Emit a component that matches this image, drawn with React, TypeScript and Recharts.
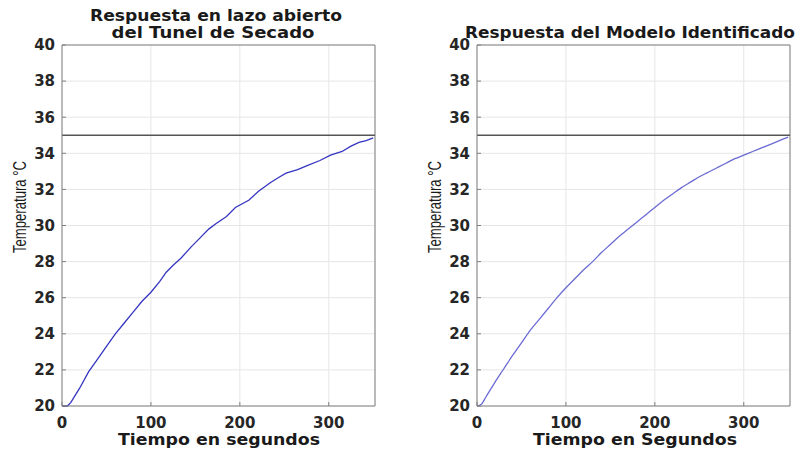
import { LineChart, Line, XAxis, YAxis, CartesianGrid, ReferenceLine } from 'recharts'

// Measured open-loop response of the drying tunnel
const tMeasured = [0, 6, 10, 20, 30, 40, 50, 60, 70, 80, 90, 100, 110, 117, 125, 134, 145, 155, 165, 173, 185, 195, 210, 221, 235, 245, 252, 265, 275, 290, 302, 315, 325, 334, 342, 350]
const tempMeasured = [20.0, 20.0, 20.2, 21.0, 21.9, 22.6, 23.3, 24.0, 24.6, 25.2, 25.8, 26.3, 26.9, 27.4, 27.8, 28.2, 28.8, 29.3, 29.8, 30.1, 30.5, 31.0, 31.4, 31.9, 32.4, 32.7, 32.9, 33.1, 33.3, 33.6, 33.9, 34.1, 34.4, 34.6, 34.7, 34.85]

// Identified model response
const tModel = [0, 5, 10, 20, 30, 40, 50, 60, 70, 80, 90, 100, 110, 120, 130, 140, 150, 160, 170, 180, 190, 200, 210, 220, 230, 240, 250, 260, 270, 280, 290, 300, 310, 320, 330, 340, 350]
const tempModel = [20.0, 20.1, 20.5, 21.3, 22.05, 22.8, 23.5, 24.2, 24.8, 25.4, 26.0, 26.55, 27.05, 27.55, 28.0, 28.5, 28.95, 29.4, 29.8, 30.2, 30.6, 31.0, 31.4, 31.75, 32.1, 32.4, 32.7, 32.95, 33.2, 33.45, 33.7, 33.9, 34.1, 34.3, 34.5, 34.7, 34.9]

const setpoint = 35
const xTicks = [0, 100, 200, 300]
const yTicks = [20, 22, 24, 26, 28, 30, 32, 34, 36, 38, 40]

const measuredData = tMeasured.map((t, i) => ({ t, temp: tempMeasured[i] }))
const modelData = tModel.map((t, i) => ({ t, temp: tempModel[i] }))

const bold = '"DejaVu Sans", Verdana, sans-serif'
const tickStyle = { fontSize: 15, fontWeight: 700, fill: '#262626', fontFamily: bold }

const Panel = ({ data, color, smooth }: { data: { t: number; temp: number }[]; color: string; smooth: boolean }) => (
  <LineChart width={389} height={449} data={data} margin={{ top: 45, right: 14, bottom: 0, left: 0 }}>
    <CartesianGrid stroke="#e6e6e6" />
    <XAxis
      dataKey="t"
      type="number"
      domain={[0, 352]}
      ticks={xTicks}
      allowDataOverflow
      height={43}
      stroke="#808080"
      tickSize={-4}
      tickMargin={15}
      tick={tickStyle}
    />
    <YAxis
      type="number"
      domain={[20, 40]}
      ticks={yTicks}
      interval={0}
      width={62}
      stroke="#808080"
      tickSize={-4}
      tickMargin={11}
      tick={tickStyle}
    />
    <ReferenceLine y={40} stroke="#808080" />
    <ReferenceLine x={352} stroke="#808080" />
    <ReferenceLine y={setpoint} stroke="#555555" strokeWidth={1.6} />
    <Line type={smooth ? 'monotone' : 'linear'} dataKey="temp" stroke={color} strokeWidth={1.3} dot={false} isAnimationActive={false} />
  </LineChart>
)

const titleProps = { fontFamily: bold, fontWeight: 700, fontSize: 15, fill: '#1a1a1a', textAnchor: 'middle' as const, lengthAdjust: 'spacingAndGlyphs' as const }
const xLabelProps = { ...titleProps, fontSize: 16 }
const yLabelProps = { fontFamily: '"Liberation Sans", Arial, sans-serif', fontSize: 18, fill: '#1a1a1a', textAnchor: 'middle' as const, dominantBaseline: 'central' as const, lengthAdjust: 'spacingAndGlyphs' as const }

export default function App() {
  return (
    <div style={{ position: 'absolute', left: 0, top: 0, width: 804, height: 449, background: '#fff', overflow: 'hidden' }}>
      <div style={{ position: 'absolute', left: 0, top: 0 }}>
        <Panel data={measuredData} color="#3535c0" smooth={false} />
      </div>
      <div style={{ position: 'absolute', left: 415, top: 0 }}>
        <Panel data={modelData} color="#6b6bd4" smooth />
      </div>
      <svg width={804} height={449} style={{ position: 'absolute', left: 0, top: 0, pointerEvents: 'none' }}>
        <text {...titleProps} x={216} y={21} textLength={252}>Respuesta en lazo abierto</text>
        <text {...titleProps} x={213} y={38} textLength={203}>del Tunel de Secado</text>
        <text {...titleProps} x={630} y={38} textLength={330}>Respuesta del Modelo Identificado</text>
        <text {...xLabelProps} x={219} y={445} textLength={202}>Tiempo en segundos</text>
        <text {...xLabelProps} x={635} y={445} textLength={204}>Tiempo en Segundos</text>
        <text {...yLabelProps} x={20} y={207} textLength={92} transform="rotate(-90 20 207)">Temperatura °C</text>
        <text {...yLabelProps} x={435} y={207} textLength={92} transform="rotate(-90 435 207)">Temperatura °C</text>
      </svg>
    </div>
  )
}
